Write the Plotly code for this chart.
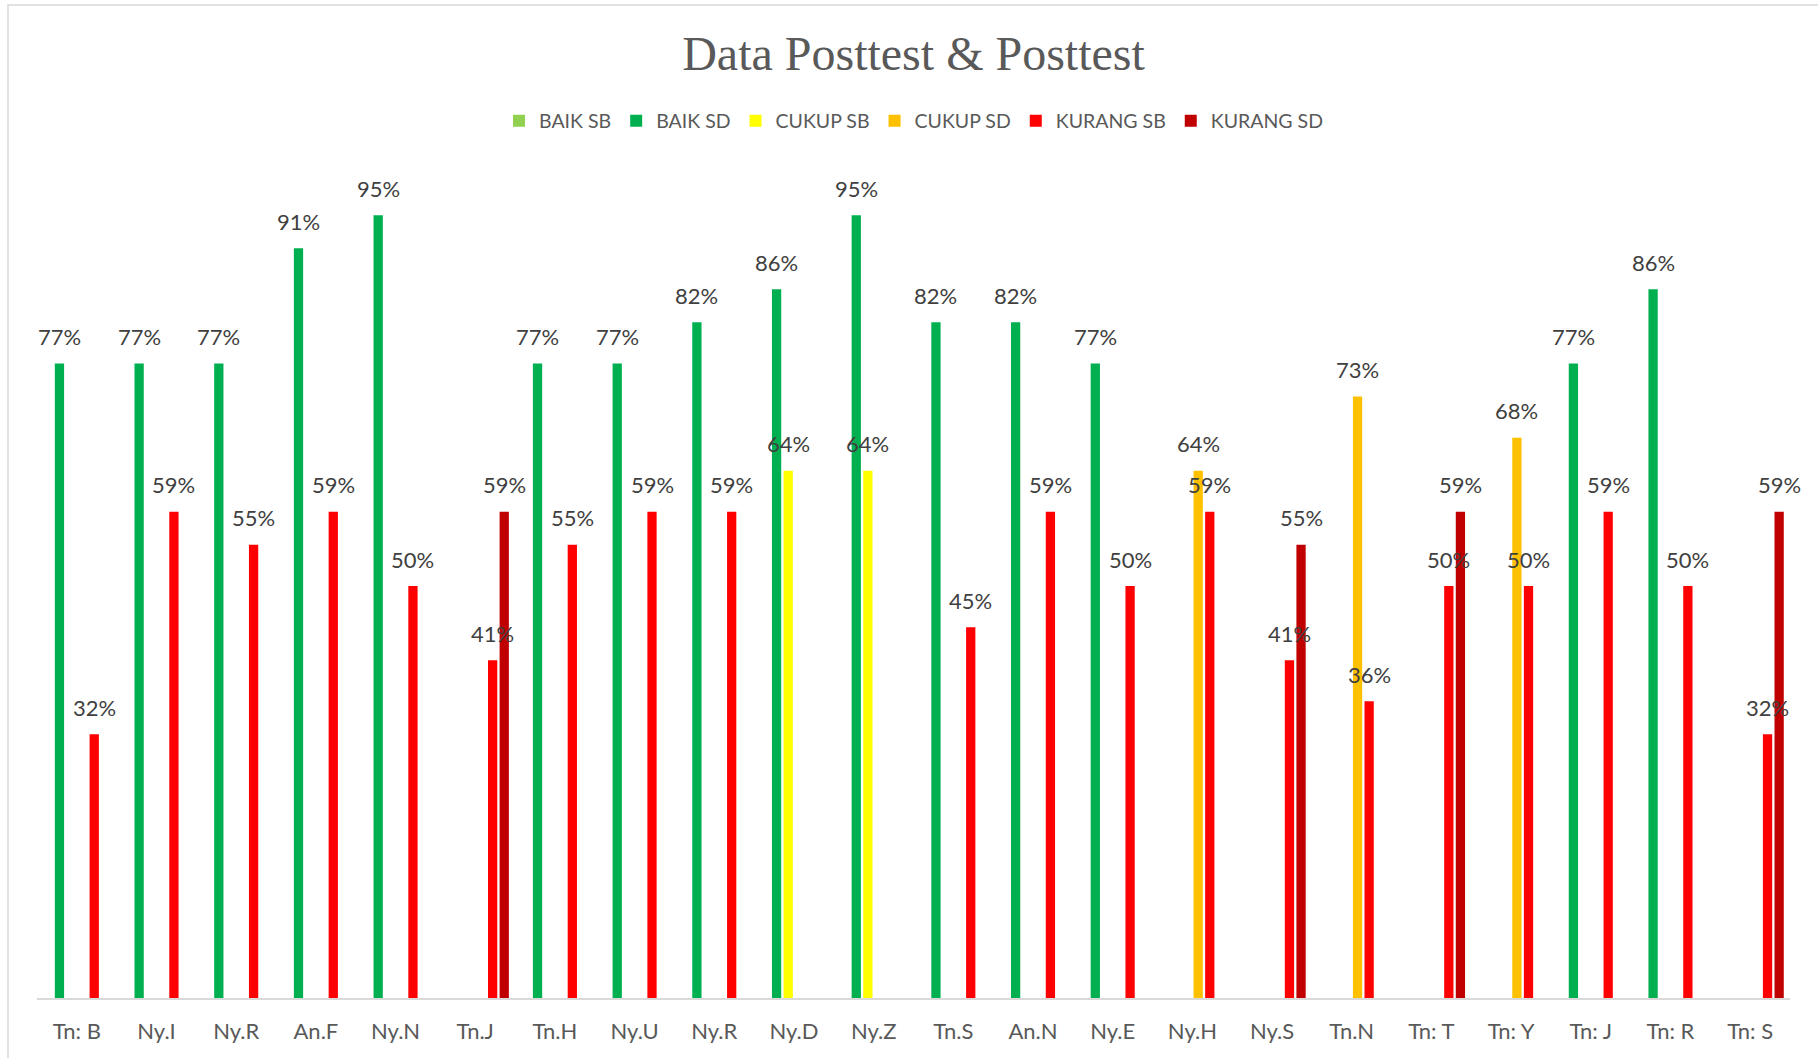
import plotly.graph_objects as go

# Respondent codes along the x axis (some codes repeat, so positions are numeric)
categories = ["Tn: B", "Ny.I", "Ny.R", "An.F", "Ny.N", "Tn.J", "Tn.H", "Ny.U", "Ny.R",
              "Ny.D", "Ny.Z", "Tn.S", "An.N", "Ny.E", "Ny.H", "Ny.S", "Tn.N", "Tn: T",
              "Tn: Y", "Tn: J", "Tn: R", "Tn: S"]

N = None
baik_sb = [N] * 22
baik_sd = [0.77, 0.77, 0.77, 0.91, 0.95, N, 0.77, 0.77, 0.82, 0.86, 0.95, 0.82, 0.82, 0.77,
           N, N, N, N, N, 0.77, 0.86, N]
cukup_sb = [N, N, N, N, N, N, N, N, N, 0.64, 0.64, N, N, N, N, N, N, N, N, N, N, N]
cukup_sd = [N, N, N, N, N, N, N, N, N, N, N, N, N, N, 0.64, N, 0.73, N, 0.68, N, N, N]
kurang_sb = [0.32, 0.59, 0.55, 0.59, 0.50, 0.41, 0.55, 0.59, 0.59, N, N, 0.45, 0.59, 0.50,
             0.59, 0.41, 0.36, 0.50, 0.50, 0.59, 0.50, 0.32]
kurang_sd = [N, N, N, N, N, 0.59, N, N, N, N, N, N, N, N, N, 0.55, N, 0.59, N, N, N, 0.59]

series = [
    ("BAIK SB", baik_sb, "#92D050"),
    ("BAIK SD", baik_sd, "#00B050"),
    ("CUKUP SB", cukup_sb, "#FFFF00"),
    ("CUKUP SD", cukup_sd, "#FFC000"),
    ("KURANG SB", kurang_sb, "#FF0000"),
    ("KURANG SD", kurang_sd, "#C00000"),
]

FONT = "Lato"
TEXT_COLOR = "#404040"
AXIS_TEXT = "#595959"
BARGAP = 0.127

x = list(range(len(categories)))
fig = go.Figure()
annotations = []
slot = (1 - BARGAP) / len(series)
for k, (name, vals, color) in enumerate(series):
    fig.add_trace(go.Bar(
        x=x, y=vals, name=name,
        marker=dict(color=color, line=dict(width=0)),
    ))
    # value labels above each bar
    offset = (k - (len(series) - 1) / 2) * slot
    for i, v in enumerate(vals):
        if v is None:
            continue
        annotations.append(dict(
            x=i + offset, y=v, xref="x", yref="y",
            text=f"{round(v * 100)}%", showarrow=False,
            yanchor="middle", yshift=27,
            font=dict(family=FONT, size=22, color=TEXT_COLOR),
        ))

W, H = 1818, 1058
L, R, T, B = 37, 28, 174, 60
pw, ph = W - L - R, H - T - B

def px_x(p):
    return (p - L) / pw

def px_y(p):
    return (H - B - p) / ph

# chart-area frame
x0, x1 = px_x(8), px_x(W + 20)
y0, y1 = px_y(H + 20), px_y(5)
fig.add_shape(type="rect", xref="paper", yref="paper", x0=x0, x1=x1, y0=y0, y1=y1,
              line=dict(color="#D9D9D9", width=1.5), layer="below")

fig.update_layout(
    width=W, height=H,
    margin=dict(l=L, r=R, t=T, b=B),
    paper_bgcolor="white", plot_bgcolor="white",
    barmode="group", bargap=BARGAP, bargroupgap=0.2,
    title=dict(text="Data Posttest &amp; Posttest", x=0.5, xref="paper", xanchor="center",
               y=1 - 53 / H, yanchor="middle",
               font=dict(family="Liberation Serif", size=48, color=AXIS_TEXT)),
    legend=dict(orientation="h", x=0.5, xanchor="center", y=px_y(121), yanchor="middle",
                font=dict(family=FONT, size=19.5, color=AXIS_TEXT),
                traceorder="normal", itemclick=False),
    xaxis=dict(tickmode="array", tickvals=x, ticktext=categories,
               range=[-0.5, len(categories) - 0.5],
               showgrid=False, zeroline=False, ticks="",
               showline=True, linecolor="#D9D9D9", linewidth=2,
               ticklabelstandoff=13,
               tickfont=dict(family=FONT, size=22, color=AXIS_TEXT)),
    yaxis=dict(range=[0, 1], visible=False, showgrid=False, zeroline=False),
    annotations=annotations,
    showlegend=True,
)

fig.write_html("out.html")
